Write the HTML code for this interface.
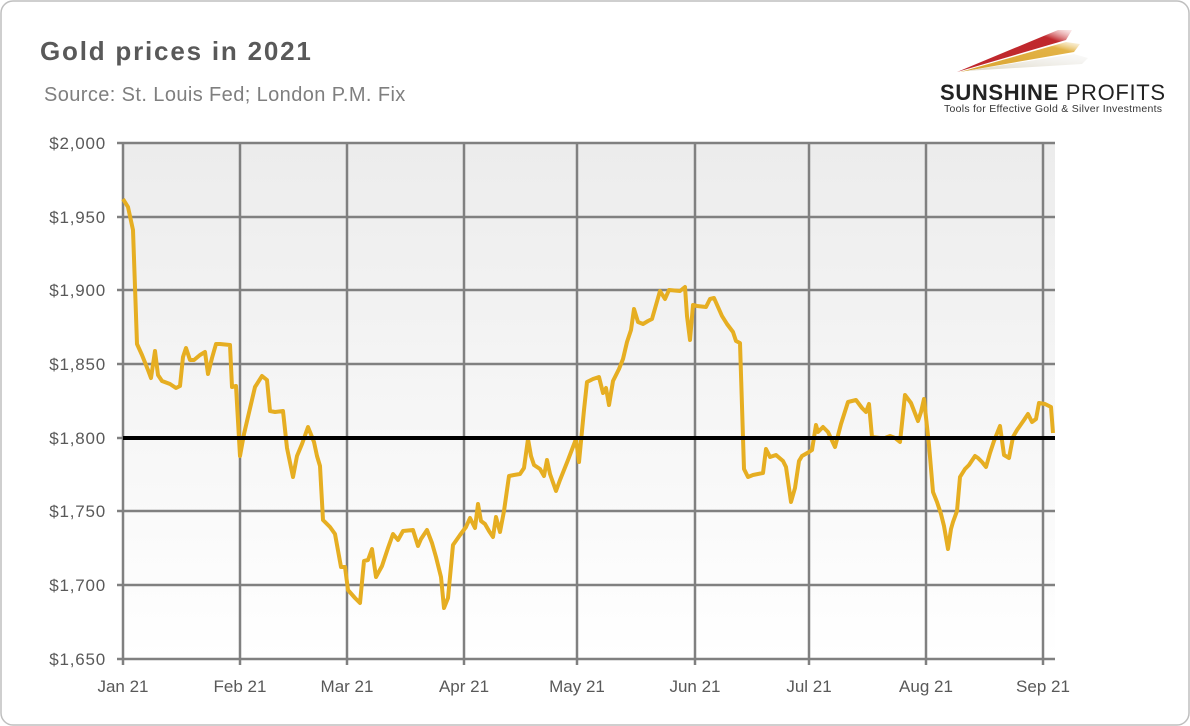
<!DOCTYPE html>
<html><head><style>
body{margin:0;background:#fff;}
svg{display:block;font-family:"Liberation Sans",sans-serif;}
</style></head><body>
<svg width="1190" height="726" viewBox="0 0 1190 726">
<defs>
<linearGradient id="bg" x1="0" y1="0" x2="0" y2="1">
<stop offset="0" stop-color="#ececec"/><stop offset="1" stop-color="#ffffff"/>
</linearGradient>
<linearGradient id="r1" x1="0" y1="1" x2="1" y2="0"><stop offset="0" stop-color="#c0282d"/><stop offset="0.8" stop-color="#c0282d"/><stop offset="1" stop-color="#f3c0c0" stop-opacity="0.3"/></linearGradient>
<linearGradient id="r2" x1="0" y1="1" x2="1" y2="0"><stop offset="0" stop-color="#d9a430"/><stop offset="0.8" stop-color="#e3b347"/><stop offset="1" stop-color="#f5e2b0" stop-opacity="0.3"/></linearGradient>
<linearGradient id="r3" x1="0" y1="1" x2="1" y2="0"><stop offset="0" stop-color="#ddd6c0"/><stop offset="1" stop-color="#eee" stop-opacity="0.3"/></linearGradient>
</defs>
<rect x="1" y="1" width="1188" height="724" rx="12" fill="#fff" stroke="#bfbfbf" stroke-width="1.5"/>
<text x="40" y="60" font-size="26" font-weight="bold" fill="#595959" letter-spacing="1.8">Gold prices in 2021</text>
<text x="44" y="101" font-size="20" fill="#7f7f7f" letter-spacing="0.4">Source: St. Louis Fed; London P.M. Fix</text>
<!-- logo -->
<polygon points="957,72 1058,30 1072,30 1066,40" fill="url(#r1)"/>
<polygon points="960,72 1066,42 1080,44 1074,52" fill="url(#r2)"/>
<polygon points="965,71 1074,54 1088,58 1082,64" fill="url(#r3)"/>
<text x="940" y="100" font-size="22" fill="#222" textLength="225"><tspan font-weight="bold">SUNSHINE</tspan> PROFITS</text>
<text x="944" y="112" font-size="10.5" fill="#333" textLength="218">Tools for Effective Gold &amp; Silver Investments</text>
<!-- plot -->
<rect x="123" y="143" width="932" height="516" fill="url(#bg)"/>
<g stroke="#808080" stroke-width="2.5">
<line x1="123" y1="143" x2="1055" y2="143"/>
<line x1="123" y1="217" x2="1055" y2="217"/>
<line x1="123" y1="290" x2="1055" y2="290"/>
<line x1="123" y1="364" x2="1055" y2="364"/>
<line x1="123" y1="511" x2="1055" y2="511"/>
<line x1="123" y1="585" x2="1055" y2="585"/>
<line x1="123" y1="659" x2="1055" y2="659"/>
<line x1="123" y1="143" x2="123" y2="665"/>
<line x1="240" y1="143" x2="240" y2="665"/>
<line x1="347" y1="143" x2="347" y2="665"/>
<line x1="464" y1="143" x2="464" y2="665"/>
<line x1="577" y1="143" x2="577" y2="665"/>
<line x1="695" y1="143" x2="695" y2="665"/>
<line x1="809" y1="143" x2="809" y2="665"/>
<line x1="926" y1="143" x2="926" y2="665"/>
<line x1="1043" y1="143" x2="1043" y2="665"/>
<line x1="117" y1="143" x2="123" y2="143"/><line x1="117" y1="217" x2="123" y2="217"/><line x1="117" y1="290" x2="123" y2="290"/><line x1="117" y1="364" x2="123" y2="364"/><line x1="117" y1="438" x2="123" y2="438"/><line x1="117" y1="511" x2="123" y2="511"/><line x1="117" y1="585" x2="123" y2="585"/><line x1="117" y1="659" x2="123" y2="659"/>
</g>
<g font-size="17" fill="#595959" text-anchor="end" letter-spacing="0.8">
<text x="106" y="149">$2,000</text><text x="106" y="223">$1,950</text><text x="106" y="296">$1,900</text><text x="106" y="370">$1,850</text><text x="106" y="444">$1,800</text><text x="106" y="517">$1,750</text><text x="106" y="591">$1,700</text><text x="106" y="665">$1,650</text>
</g>
<g font-size="17" fill="#595959" text-anchor="middle">
<text x="123" y="692">Jan 21</text><text x="240" y="692">Feb 21</text><text x="347" y="692">Mar 21</text><text x="464" y="692">Apr 21</text><text x="577" y="692">May 21</text><text x="695" y="692">Jun 21</text><text x="809" y="692">Jul 21</text><text x="926" y="692">Aug 21</text><text x="1043" y="692">Sep 21</text>
</g>
<polyline fill="none" stroke="#e6ae22" stroke-width="4" stroke-linejoin="round" points="123,199 128,207 133,230 137,344 142,355 148,370 151,378 155,351 158,375 162,381 170,384 176,388 180,386 183,357 186,348 190,360 194,360 200,355 205,352 208,374 212,358 216,344 220,344 230,345 232,387 236,386 240,456 244,434 255,387 262,376 267,380 270,411 275,412 283,411 287,448 293,477 297,456 302,444 308,427 314,442 317,456 320,466 323,520 330,527 335,534 341,567 345,567 348,590 355,598 360,603 364,561 368,560 372,549 376,577 382,566 388,548 393,534 398,540 403,531 413,530 418,546 421,539 427,530 432,543 436,557 441,577 444,608 448,598 453,545 460,535 466,527 470,518 475,528 478,504 481,521 485,524 489,531 493,537 496,517 500,532 504,511 509,476 514,475 520,474 524,468 528,439 531,456 534,465 540,469 544,476 547,460 550,474 556,491 560,480 568,460 576,439 579,462 584,410 587,382 593,379 599,377 603,393 606,388 609,405 613,381 619,369 623,359 627,342 631,330 634,309 638,322 643,324 648,321 652,319 660,291 665,299 669,290 680,291 685,287 687,316 690,340 693,305 697,306 706,307 710,299 714,298 718,307 722,316 727,324 733,332 736,341 740,343 744,469 748,477 753,475 763,473 766,449 770,457 776,455 783,461 786,467 791,502 795,488 799,461 802,456 809,452 812,450 816,425 818,432 823,427 828,432 835,447 841,424 848,402 856,400 862,408 866,412 869,404 872,437 880,438 885,438 890,436 895,438 900,442 905,395 911,403 918,421 921,412 924,399 929,445 933,492 937,502 941,514 944,526 948,549 951,529 953,522 957,511 960,477 965,469 969,465 975,456 978,458 982,462 986,467 990,453 994,441 1000,426 1004,455 1009,458 1013,437 1017,430 1024,420 1028,414 1032,422 1036,419 1039,403 1045,404 1051,407 1053,433"/>
<line x1="123" y1="438" x2="1055" y2="438" stroke="#000" stroke-width="4"/>
</svg>
</body></html>
